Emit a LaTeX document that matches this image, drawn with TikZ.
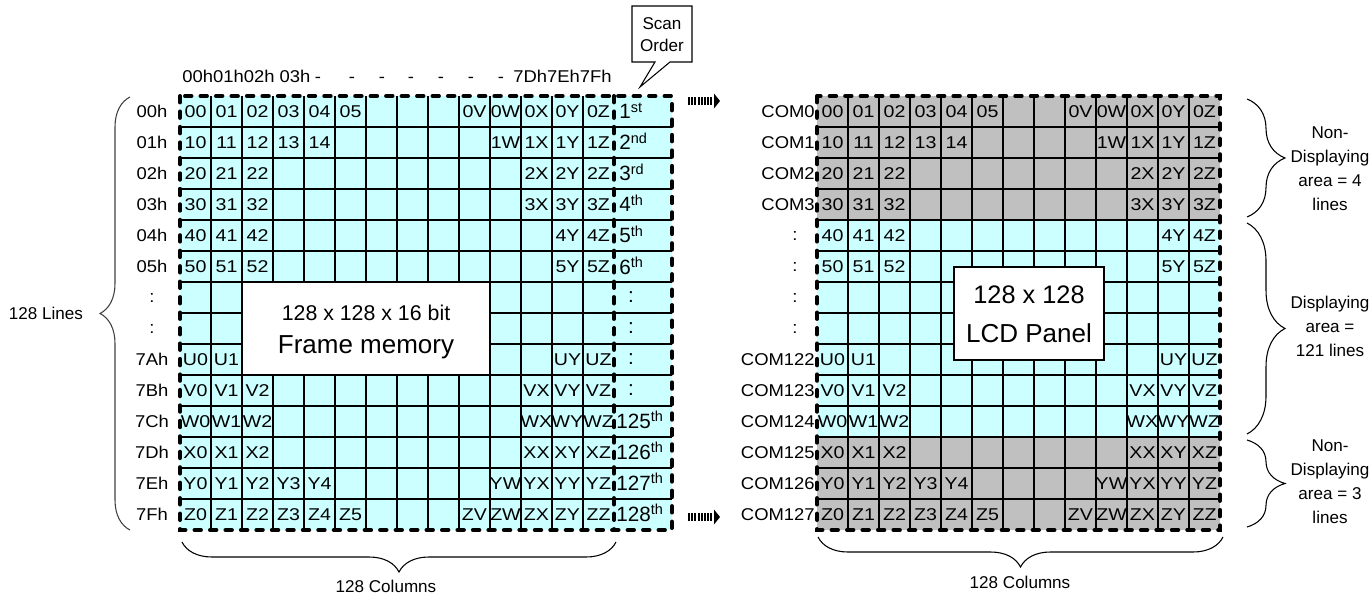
\documentclass[tikz,border=0pt]{standalone}
\usepackage{fontspec}
\setmainfont{Liberation Sans}
\newfontfamily\cellfont[FakeStretch=1.15]{Liberation Sans}
\newfontfamily\lblfont[FakeStretch=1.08]{Liberation Sans}
\usetikzlibrary{arrows.meta,decorations.pathreplacing}

\definecolor{memcyan}{RGB}{204,255,255}
\definecolor{panelgray}{RGB}{192,192,192}

% row/column/text, columns counted on the 14 wide frame memory
\def\memcells{%
0/0/00,0/1/01,0/2/02,0/3/03,0/4/04,0/5/05,0/9/0V,0/10/0W,0/11/0X,0/12/0Y,0/13/0Z,%
1/0/10,1/1/11,1/2/12,1/3/13,1/4/14,1/10/1W,1/11/1X,1/12/1Y,1/13/1Z,%
2/0/20,2/1/21,2/2/22,2/11/2X,2/12/2Y,2/13/2Z,%
3/0/30,3/1/31,3/2/32,3/11/3X,3/12/3Y,3/13/3Z,%
4/0/40,4/1/41,4/2/42,4/12/4Y,4/13/4Z,%
5/0/50,5/1/51,5/2/52,5/12/5Y,5/13/5Z,%
8/0/U0,8/1/U1,8/12/UY,8/13/UZ,%
9/0/V0,9/1/V1,9/2/V2,9/11/VX,9/12/VY,9/13/VZ,%
10/0/W0,10/1/W1,10/2/W2,10/11/WX,10/12/WY,10/13/WZ,%
11/0/X0,11/1/X1,11/2/X2,11/11/XX,11/12/XY,11/13/XZ,%
12/0/Y0,12/1/Y1,12/2/Y2,12/3/Y3,12/4/Y4,12/10/YW,12/11/YX,12/12/YY,12/13/YZ,%
13/0/Z0,13/1/Z1,13/2/Z2,13/3/Z3,13/4/Z4,13/5/Z5,13/9/ZV,13/10/ZW,13/11/ZX,13/12/ZY,13/13/ZZ}

\tikzset{
  cell/.style={inner sep=0pt,font=\cellfont\fontsize{12.8}{14}\selectfont},
  rowlbl/.style={inner sep=0pt,font=\lblfont\fontsize{12.8}{14}\selectfont},
  note/.style={inner sep=0pt,align=center,font=\fontsize{12.8}{18}\selectfont},
  order/.style={anchor=base west,inner sep=0pt,font=\fontsize{15.5}{18}\selectfont},
  gridline/.style={line width=1pt},
  dashborder/.style={line width=3pt,line cap=round,dash pattern=on 4.8pt off 6.8pt},
  bracedeco/.style={decorate,decoration={brace,amplitude=#1},line width=0.8pt},
  scanarrow/.style={line width=6.5pt,dash pattern=on 1.5pt off 0.9pt,-{Triangle[length=4.5pt 0 0,width=11pt 0 0]}},
  panelbox/.style={draw,fill=white,line width=1pt},
}

\begin{document}
\begin{tikzpicture}[x=0.75pt,y=0.75pt,yscale=-1,xscale=1]
\useasboundingbox (0,0) rectangle (1369,595);

%Frame memory grid
\fill[memcyan] (180,96) rectangle (672,530);
\foreach \r in {1,...,13} \draw[gridline] (180,{96+31*\r}) -- (672,{96+31*\r});
\foreach \c in {1,...,13} \draw[gridline] ({180+31*\c},96) -- ({180+31*\c},530);
\foreach \r/\c/\t in \memcells
  \node[cell] (mem-\r-\c) at ({195.5+31*\c},{111.5+31*\r}) {\t};
\draw[dashborder] (180,96) rectangle (672,530);
\draw[dashborder] (614,96) -- (614,530);

%Frame memory box
\draw[panelbox] (242,282) rectangle (490,375);
\node[anchor=base,inner sep=0pt,font=\fontsize{16}{18}\selectfont] (memsize) at (366,320) {128 x 128 x 16 bit};
\node[anchor=base,inner sep=0pt,font=\fontsize{19.5}{22}\selectfont] (memname) at (366,353) {Frame memory};

%Scan order column
\foreach \n/\s [count=\i from 0] in {1/st,2/nd,3/rd,4/th,5/th,6/th}
  \node[order] (ord-\i) at (619,{119+31*\i}) {\n\textsuperscript{\s}};
\foreach \i in {6,...,9}
  \node[inner sep=0pt,font=\fontsize{15.5}{18}\selectfont] (ord-\i) at (631,{111.5+31*\i}) {:};
\foreach \n [count=\i from 10] in {125,126,127,128}
  \node[order] (ord-\i) at (616,{118.5+31*\i}) {\n\textsuperscript{th}};

%LCD panel grid
\fill[panelgray] (817,96) rectangle (1220,220);
\fill[memcyan] (817,220) rectangle (1220,437);
\fill[panelgray] (817,437) rectangle (1220,530);
\foreach \r in {1,...,13} \draw[gridline] (817,{96+31*\r}) -- (1220,{96+31*\r});
\foreach \c in {1,...,12} \draw[gridline] ({817+31*\c},96) -- ({817+31*\c},530);
\foreach \r/\c/\t in \memcells {
  \pgfmathtruncatemacro\cc{\c>5 ? \c-1 : \c}
  \node[cell] (lcd-\r-\cc) at ({832.5+31*\cc},{111.5+31*\r}) {\t};
}
\draw[dashborder] (817,96) rectangle (1220,530);

%LCD panel box
\draw[panelbox] (954,267) rectangle (1104,360);
\node[anchor=base,inner sep=0pt,font=\fontsize{19}{22}\selectfont] (lcdsize) at (1029,303) {128 x 128};
\node[anchor=base,inner sep=0pt,font=\fontsize{19.5}{22}\selectfont] (lcdname) at (1029,342.5) {LCD Panel};

% Row and column labels
\foreach \t [count=\i from 0] in {00h,01h,02h,03h,04h,05h,:,:,7Ah,7Bh,7Ch,7Dh,7Eh,7Fh}
  \node[rowlbl] (row-\i) at (152,{111.5+31*\i}) {\t};
\foreach \t [count=\i from 0] in {COM0,COM1,COM2,COM3}
  \node[rowlbl,anchor=east] (com-\i) at (815,{111.5+31*\i}) {\t};
\foreach \i in {4,...,7}
  \node[rowlbl] (com-\i) at (795,{111.5+31*\i}) {:};
\foreach \t [count=\i from 8] in {COM122,COM123,COM124,COM125,COM126,COM127}
  \node[rowlbl,anchor=east] (com-\i) at (815,{111.5+31*\i}) {\t};
\node[rowlbl,anchor=base west] (colfirst) at (182,83) {00h01h02h 03h};
\foreach \x [count=\i] in {318,352,382,411,441,471,501}
  \node[rowlbl,anchor=base] (coldash-\i) at (\x,83) {-};
\node[rowlbl,anchor=base east] (collast) at (612,83) {7Dh7Eh7Fh};

% Scan Order callout
\draw[line width=0.8pt,fill=white] (632,6) -- (692,6) -- (692,62) -- (670,62) -- (640,87) -- (655,62) -- (632,62) -- cycle;
\node[note,font=\fontsize{12.8}{16.5}\selectfont] (scan) at (662,35) {Scan\\Order};

% Scan arrows
\coordinate (scantopA) at (688,101);
\coordinate (scantopB) at (720,101);
\coordinate (scanbotA) at (688,517);
\coordinate (scanbotB) at (720,517);
\draw[scanarrow] (scantopA) -- (scantopB);
\draw[scanarrow] (scanbotA) -- (scanbotB);

% Braces
\coordinate (linesbot) at (130,530);
\coordinate (linestop) at (130,97);
\draw[bracedeco=22.5pt,black!75] (linesbot) -- (linestop);
\node[note] (lines) at (46,313) {128 Lines};

\coordinate (memcolR) at (616,542);
\coordinate (memcolL) at (182,542);
\draw[bracedeco=22.5pt] (memcolR) -- (memcolL);
\node[note] (memcols) at (386,586) {128 Columns};

\coordinate (lcdcolR) at (1223,537);
\coordinate (lcdcolL) at (818,537);
\draw[bracedeco=22.5pt] (lcdcolR) -- (lcdcolL);
\node[note] (lcdcols) at (1020,582) {128 Columns};

\coordinate (nd1top) at (1247,99);
\coordinate (nd1bot) at (1247,217);
\draw[bracedeco=28.5pt] (nd1top) -- (nd1bot);
\node[note] (nondisp1) at (1330,169) {Non-\\Displaying\\area = 4\\lines};

\coordinate (disptop) at (1247,223);
\coordinate (dispbot) at (1247,434);
\draw[bracedeco=28.5pt] (disptop) -- (dispbot);
\node[note] (disp) at (1330,326) {Displaying\\area =\\121 lines};

\coordinate (nd2top) at (1247,440);
\coordinate (nd2bot) at (1247,527);
\draw[bracedeco=28.5pt] (nd2top) -- (nd2bot);
\node[note] (nondisp2) at (1330,482) {Non-\\Displaying\\area = 3\\lines};
\end{tikzpicture}
\end{document}
